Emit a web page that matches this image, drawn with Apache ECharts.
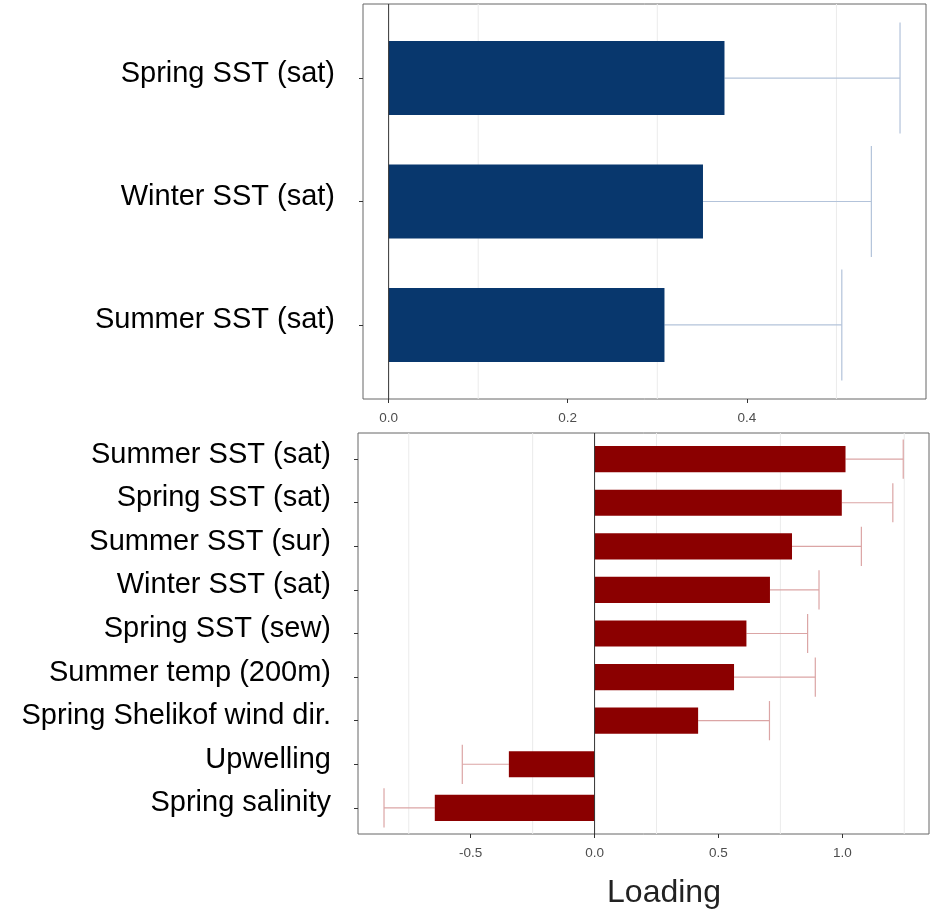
<!DOCTYPE html>
<html>
<head>
<meta charset="utf-8">
<script src="https://cdn.jsdelivr.net/npm/echarts@6/dist/echarts.min.js"></script>
<style>
  html, body { margin: 0; padding: 0; background: #ffffff; }
  #chart { width: 932px; height: 912px; }
</style>
</head>
<body>
<div id="chart"></div>
<script>
// Satellite SST covariates (upper panel)
const satNames = ['Spring SST (sat)', 'Winter SST (sat)', 'Summer SST (sat)'];
const satLoading = [0.375, 0.351, 0.308];
const satError = [0.196, 0.188, 0.198];

// Full covariate set (lower panel)
const allNames = ['Summer SST (sat)', 'Spring SST (sat)', 'Summer SST (sur)', 'Winter SST (sat)',
  'Spring SST (sew)', 'Summer temp (200m)', 'Spring Shelikof wind dir.', 'Upwelling', 'Spring salinity'];
const allLoading = [1.013, 0.998, 0.797, 0.708, 0.613, 0.563, 0.418, -0.346, -0.645];
const allError = [0.233, 0.206, 0.280, 0.198, 0.247, 0.328, 0.288, 0.188, 0.205];

// Axis ticks and light grid lines
const satTicks = [0, 0.2, 0.4];
const satGrid = [0.1, 0.3, 0.5];
const allTicks = [-0.5, 0, 0.5, 1.0];
const allGrid = [-0.75, -0.25, 0.25, 0.75, 1.25];

const FONT = '"Liberation Sans", Arial, sans-serif';
const BAR_HALF = 0.3;   // half bar thickness in category units
const CAP_HALF = 0.45;  // half cap height in category units

function barRender(color) {
  return function (params, api) {
    const v = api.value(0), c = api.value(1);
    const a = api.coord([0, c - BAR_HALF]);
    const b = api.coord([v, c + BAR_HALF]);
    return {
      type: 'rect',
      shape: { x: Math.min(a[0], b[0]), y: Math.min(a[1], b[1]),
               width: Math.abs(b[0] - a[0]), height: Math.abs(b[1] - a[1]) },
      style: { fill: color }
    };
  };
}

function errRender(color) {
  return function (params, api) {
    const v = api.value(0), c = api.value(1), e = api.value(2);
    const end = v + (v >= 0 ? e : -e);
    const p0 = api.coord([v, c]);
    const p1 = api.coord([end, c]);
    const t = api.coord([end, c - CAP_HALF]);
    const u = api.coord([end, c + CAP_HALF]);
    const st = { stroke: color, lineWidth: 1.2 };
    return {
      type: 'group',
      children: [
        { type: 'line', shape: { x1: p0[0], y1: p0[1], x2: p1[0], y2: p1[1] }, style: st },
        { type: 'line', shape: { x1: t[0], y1: t[1], x2: u[0], y2: u[1] }, style: st }
      ]
    };
  };
}

function vlineRender(color, width) {
  return function (params, api) {
    const x = api.coord([api.value(0), 1])[0];
    const cs = params.coordSys;
    return {
      type: 'line',
      shape: { x1: x, y1: cs.y, x2: x, y2: cs.y + cs.height },
      style: { stroke: color, lineWidth: width }
    };
  };
}

function xAxisCfg(idx, min, max, ticks) {
  return {
    type: 'value', gridIndex: idx, min: min, max: max,
    axisLine: { show: false, onZero: false },
    splitLine: { show: false },
    axisTick: { show: true, customValues: ticks, length: 4, lineStyle: { color: '#333', width: 1 } },
    axisLabel: { customValues: ticks, margin: 12, fontSize: 13.5, color: '#4d4d4d', fontFamily: FONT,
                 formatter: v => v.toFixed(1) }
  };
}

function yAxisCfg(idx, names, margin) {
  const pos = names.map((n, i) => i + 1);
  return {
    type: 'value', gridIndex: idx, inverse: true, min: 0.4, max: names.length + 0.6,
    axisLine: { show: false, onZero: false },
    splitLine: { show: false },
    axisTick: { show: true, customValues: pos, length: 4, lineStyle: { color: '#333', width: 1 } },
    axisLabel: {
      customValues: pos, margin: margin, fontFamily: FONT,
      // a thin empty second line lifts the name slightly above the tick
      formatter: v => '{n|' + names[Math.round(v) - 1] + '}\n{s|}',
      rich: {
        n: { fontSize: 29, color: '#000', fontFamily: FONT, lineHeight: 33, align: 'right' },
        s: { fontSize: 1, lineHeight: 9 }
      }
    }
  };
}

function panelSeries(idx, names, loading, error, gridVals, barColor, errColor) {
  const barData = loading.map((v, i) => [v, i + 1]);
  const errData = loading.map((v, i) => [v, i + 1, error[i]]);
  return [
    { type: 'custom', xAxisIndex: idx, yAxisIndex: idx, z: 1, silent: true,
      renderItem: vlineRender('#ebebeb', 1), data: gridVals.map(v => [v, 1]) },
    { type: 'custom', xAxisIndex: idx, yAxisIndex: idx, z: 2, silent: true,
      renderItem: errRender(errColor), data: errData },
    { type: 'custom', xAxisIndex: idx, yAxisIndex: idx, z: 3,
      renderItem: barRender(barColor), data: barData },
    { type: 'custom', xAxisIndex: idx, yAxisIndex: idx, z: 4, silent: true,
      renderItem: vlineRender('#333333', 1), data: [[0, 1]] }
  ];
}

const chart = echarts.init(document.getElementById('chart'), null, { renderer: 'canvas' });

chart.setOption({
  animation: false,
  backgroundColor: '#ffffff',
  grid: [
    { left: 363, top: 4, width: 563, height: 395, show: true, borderColor: '#666', borderWidth: 1, containLabel: false },
    { left: 358, top: 433, width: 571, height: 401, show: true, borderColor: '#666', borderWidth: 1, containLabel: false }
  ],
  xAxis: [
    xAxisCfg(0, -0.0286, 0.6, satTicks),
    xAxisCfg(1, -0.955, 1.35, allTicks)
  ],
  yAxis: [
    yAxisCfg(0, satNames, 28),
    yAxisCfg(1, allNames, 27)
  ],
  series: [].concat(
    panelSeries(0, satNames, satLoading, satError, satGrid, '#08376d', '#b3c3da'),
    panelSeries(1, allNames, allLoading, allError, allGrid, '#8b0000', '#dba5a5')
  ),
  graphic: [
    { type: 'text', x: 664, y: 893,
      style: { text: 'Loading', fontSize: 32, fontFamily: FONT, fill: '#222',
               align: 'center', verticalAlign: 'middle' } }
  ]
});
</script>
</body>
</html>
